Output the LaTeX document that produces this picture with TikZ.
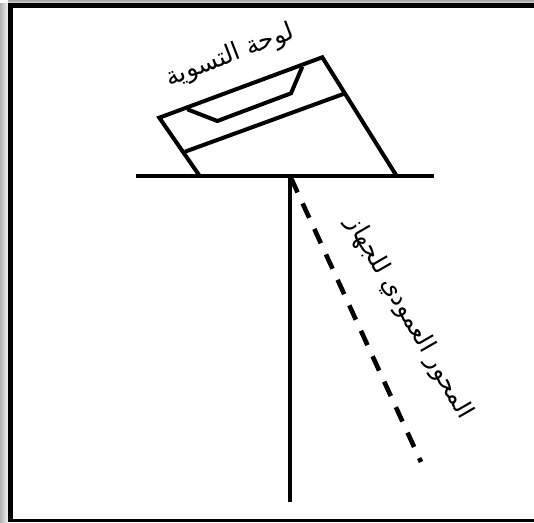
\documentclass[tikz,border=0pt]{standalone}
\usepackage{fontspec}
\newfontfamily\arabicfont[Script=Arabic]{DejaVu Sans}
\TeXXeTstate=1
\tikzset{
  thick line/.style={line width=4pt,line cap=butt,line join=miter,black},
  frame line/.style={fill=black},
  axis dash/.style={line width=4.6pt,black,dash pattern=on 15.8pt off 12.2pt},
  arlabel/.style={inner sep=0pt,black}
}
\begin{document}
\begin{tikzpicture}[x=1pt,y=-1pt]
\useasboundingbox (0,0) rectangle (534,522);
\fill[white] (0,0) rectangle (534,522);
\fill[left color=black!30,right color=black!5] (0,3) rectangle (8,522);
\fill[top color=black!35,bottom color=black!15] (8,0) rectangle (534,3);
\fill[frame line] (8.3,3) rectangle (534,7.5);
\fill[frame line] (8.3,3) rectangle (13.3,522);
\fill[frame line] (8.3,519.3) rectangle (534,522);
\coordinate (tl) at (159.3,117.7);
\coordinate (tr) at (322.3,57.3);
\coordinate (bl) at (199,175);
\coordinate (br) at (396,175);
\coordinate (il) at (185,151.7);
\coordinate (ir) at (343.3,94);
\coordinate (p1) at (187.3,109.3);
\coordinate (p2) at (217.3,121);
\coordinate (p3) at (291,93.3);
\coordinate (p4) at (302.3,66.7);
\coordinate (hl) at (136,175.5);
\coordinate (hr) at (434,175.5);
\coordinate (vt) at (290,175.5);
\coordinate (vb) at (290,502);
\coordinate (dt) at (291,178);
\coordinate (db) at (421,462);
\draw[thick line] (bl) -- (tl) -- (tr) -- (br);
\draw[thick line] (il) -- (ir);
\draw[thick line] (p1) -- (p2) -- (p3) -- (p4);
\draw[thick line] (hl) -- (hr);
\draw[thick line] (vt) -- (vb);
\draw[axis dash] (dt) -- (db);
\node[arlabel,rotate=21,font=\arabicfont\fontsize{25}{25}\selectfont] (lbla) at (230,56) {\beginR لوحة التسوية\endR};
\node[arlabel,rotate=-60,font=\arabicfont\fontsize{24.5}{25}\selectfont] (lblb) at (409,318) {\beginR المحور العمودي للجهاز\endR};
\end{tikzpicture}
\end{document}
